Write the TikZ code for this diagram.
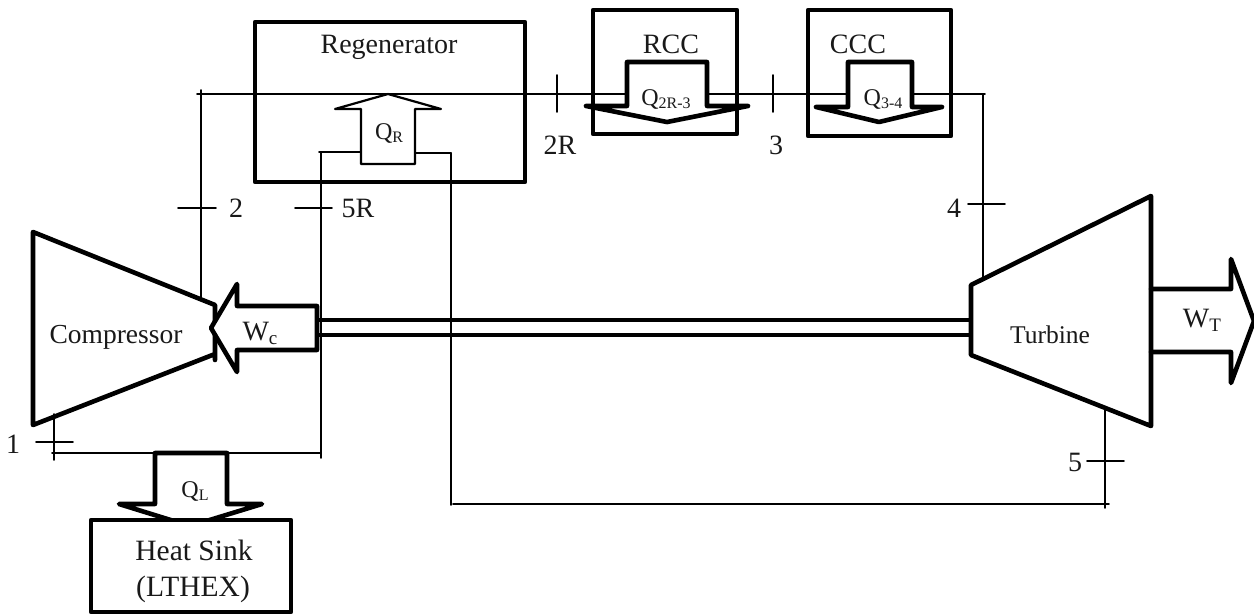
\documentclass[tikz,border=0pt]{standalone}
\usepackage{fontspec}
\setmainfont{Liberation Serif}
\newcommand{\fsz}[1]{\fontsize{#1}{#1}\selectfont}
\newcommand{\subt}[1]{\raisebox{-3pt}{\fsz{16}#1}}
\newcommand{\subw}[1]{\raisebox{-4pt}{\fsz{19}#1}}
\tikzset{
  pipe/.style={line width=1.6pt,line cap=round},
  thick box/.style={line width=4.6pt,line join=round,line cap=round},
  heat/.style={thick box,fill=white},
  thin arrow/.style={line width=2.2pt,line join=round,fill=white},
  lbl/.style={inner sep=0pt,anchor=base,font=\fsz{28},text=black!90},
  small/.style={lbl,font=\fsz{24}},
  work/.style={lbl,font=\fsz{28}},
}
\begin{document}
\begin{tikzpicture}[x=1pt,y=-1pt]
\useasboundingbox (0,0) rectangle (1254,614);
\fill[white] (0,0) rectangle (1254,614);
% pipe junctions
\coordinate (tl) at (197,94); \coordinate (tr) at (985,94);
\coordinate (c2top) at (201,90); \coordinate (c2bot) at (201,298);
\coordinate (t4top) at (983,94); \coordinate (t4bot) at (983,280);
\coordinate (r5a) at (319,152); \coordinate (r5b) at (361,152);
\coordinate (r5c) at (321,152); \coordinate (r5d) at (321,458);
\coordinate (r6a) at (415,153); \coordinate (r6b) at (451,153);
\coordinate (r6c) at (451,505);
\coordinate (b1) at (453,504); \coordinate (b2) at (1109,504);
\coordinate (t5a) at (1105,408); \coordinate (t5b) at (1105,508);
\coordinate (c1a) at (54,414); \coordinate (c1b) at (54,460);
\coordinate (s1) at (52,453); \coordinate (s2) at (321,453);
% pipes
\draw[pipe] (tl) -- (tr);
\draw[pipe] (c2top) -- (c2bot);
\draw[pipe] (t4top) -- (t4bot);
\draw[pipe] (r5a) -- (r5b);
\draw[pipe] (r5c) -- (r5d);
\draw[pipe] (r6a) -- (r6b);
\draw[pipe] (r6b) -- (r6c);
\draw[pipe] (b1) -- (b2);
\draw[pipe] (t5a) -- (t5b);
\draw[pipe] (c1a) -- (c1b);
\draw[pipe] (s1) -- (s2);
% station ticks
\foreach \n/\xa/\xb/\y in {a/178/216/208,b/295/332/208,c/968/1005/204,d/36/73/442,e/1087/1124/461}
  \draw[pipe] (\xa,\y) coordinate (tick\n a) -- (\xb,\y) coordinate (tick\n b);
\foreach \n/\x in {f/557,g/773}
  \draw[pipe] (\x,75) coordinate (tick\n a) -- (\x,112) coordinate (tick\n b);
% component boxes
\draw[thick box] (255,22) rectangle (525,182);
\draw[thick box] (593,10) rectangle (737,134);
\draw[thick box] (808,10) rectangle (951,136);
% regenerator heat arrow
\draw[thin arrow] (361,164) -- (361,109) -- (335,109) -- (388,94) -- (441,109) -- (415,109) -- (415,164) -- cycle;
% combustor heat arrows
\draw[heat] (627,106) -- (627,62) -- (707,62) -- (707,106) -- (748,106) -- (667,122) -- (586,106) -- cycle;
\draw[heat] (848,107) -- (848,62) -- (912,62) -- (912,107) -- (942,107) -- (879,122) -- (816,107) -- cycle;
% shaft
\draw[line width=4.2pt] (317,320) -- (973,320);
\draw[line width=4.2pt] (317,335) -- (973,335);
% compressor and turbine
\draw[thick box] (215,360) -- (215,305) -- (33,232) -- (33,425) -- (215,354);
\draw[thick box] (971,355) -- (971,285) -- (1151,196) -- (1151,426) -- cycle;
% work arrows
\draw[heat] (211,328) -- (237,284) -- (237,306) -- (317,306) -- (317,350) -- (237,350) -- (237,372) -- cycle;
\draw[thick box] (1151,289) -- (1231,289) -- (1231,259) -- (1254,321) -- (1231,383) -- (1231,352) -- (1151,352);
% heat sink
\draw[heat] (155,504) -- (155,453) -- (227,453) -- (227,504) -- (262,504) -- (190,526) -- (119,504) -- cycle;
\draw[thick box,fill=white] (91,520) rectangle (291,612);
% labels
\node[lbl] (regen) at (389,53) {Regenerator};
\node[lbl] (rcc) at (671,53) {RCC};
\node[lbl] (ccc) at (858,53) {CCC};
\node[small] (q2r) at (666,105) {Q\subt{2R-3}};
\node[small] (q34) at (883,105) {Q\subt{3-4}};
\node[small] (qr) at (389,139) {Q\subt{R}};
\node[small] (ql) at (195,497) {Q\subt{L}};
\node[work] (wc) at (260,340) {W\subw{c}};
\node[work] (wt) at (1202,327) {W\subw{T}};
\node[lbl,font=\fsz{27.5}] (comp) at (116,343) {Compressor};
\node[lbl,font=\fsz{25.5}] (turb) at (1050,343) {Turbine};
\node[lbl,font=\fsz{29.5}] (sink) at (194,560) {Heat Sink};
\node[lbl,font=\fsz{29.5}] (lthex) at (193,596) {(LTHEX)};
\node[lbl] (st2) at (236,217) {2};
\node[lbl] (st5r) at (358,217) {5R};
\node[lbl] (st2r) at (560,154) {2R};
\node[lbl] (st3) at (776,154) {3};
\node[lbl] (st4) at (954,217) {4};
\node[lbl] (st1) at (13,453) {1};
\node[lbl] (st5) at (1075,471) {5};
\end{tikzpicture}
\end{document}
